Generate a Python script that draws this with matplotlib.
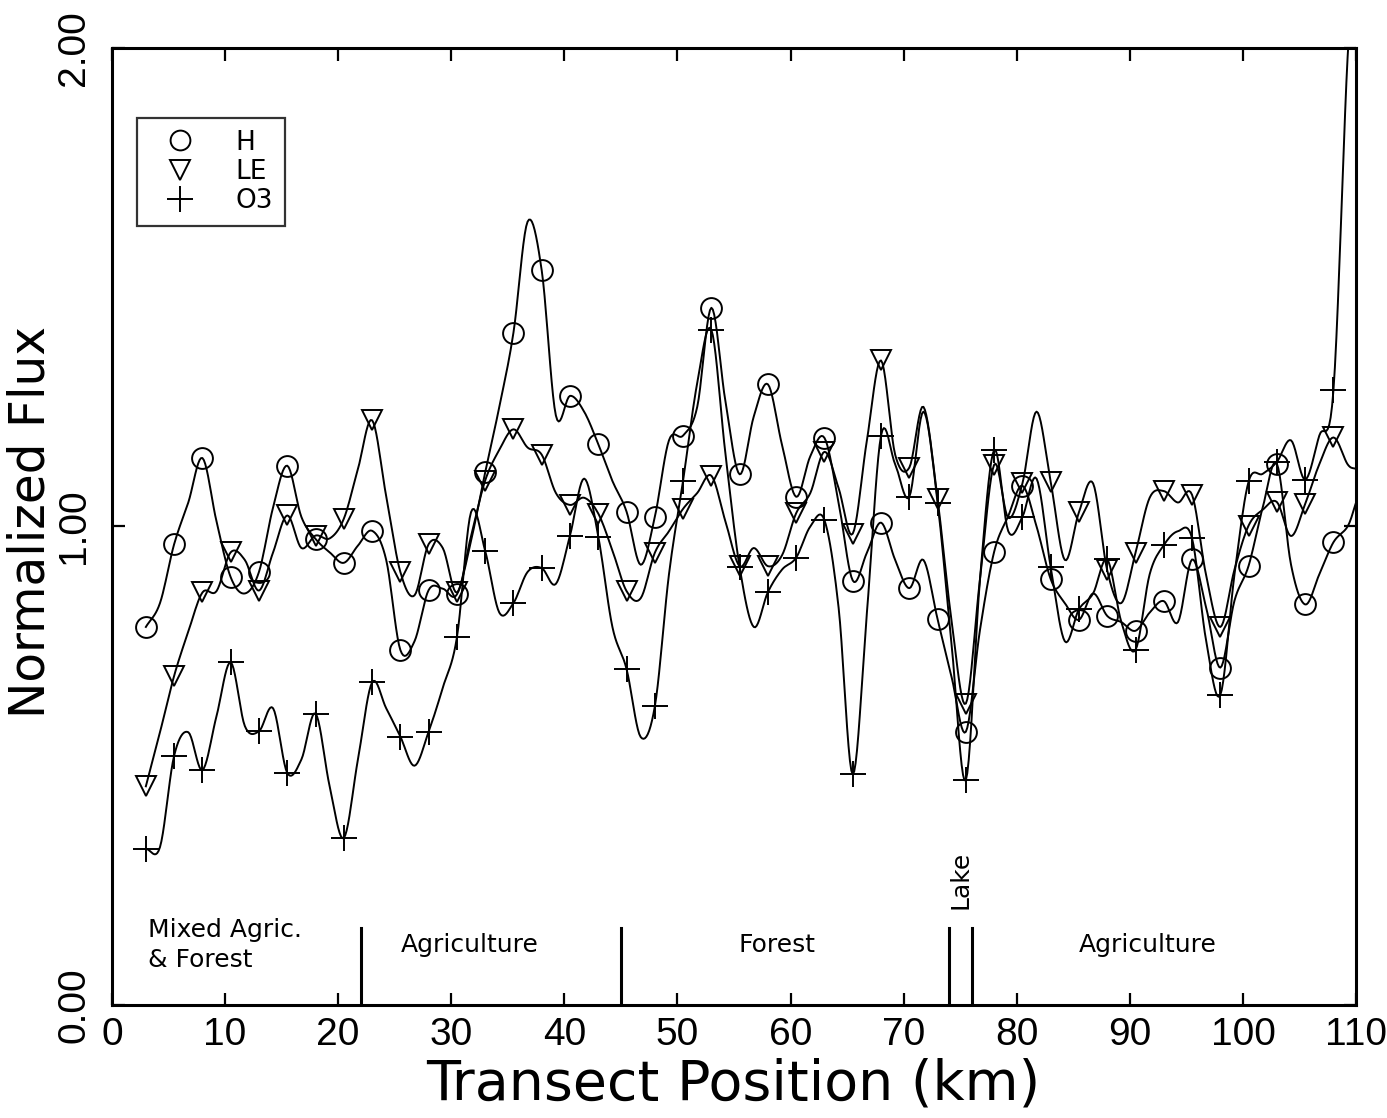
import numpy as np
import matplotlib
matplotlib.use("Agg")
import matplotlib.pyplot as plt
from matplotlib.lines import Line2D

# sample positions along the transect (km); every second one carries a marker
km = list(np.arange(3.0, 109.3, 1.25)) + [110.0]

flux_h = [0.79, 0.84, 0.963, 1.05, 1.143, 1.01, 0.894, 0.86, 0.905, 1.04,
          1.127, 1.02, 0.974, 0.946, 0.924, 0.96, 0.991, 0.93, 0.742, 0.76,
          0.867, 0.87, 0.858, 0.97, 1.113, 1.25, 1.405, 1.637, 1.535, 1.232,
          1.273, 1.24, 1.172, 1.095, 1.031, 0.92, 1.020, 1.18, 1.190, 1.25,
          1.457, 1.26, 1.109, 1.23, 1.297, 1.17, 1.062, 1.147, 1.185, 1.05,
          0.887, 0.945, 1.008, 0.93, 0.871, 0.93, 0.806, 0.684, 0.571, 0.784,
          0.947, 1.022, 1.085, 1.00, 0.890, 0.84, 0.805, 0.86, 0.813, 0.80,
          0.782, 0.82, 0.844, 0.80, 0.931, 0.83, 0.705, 0.845, 0.918, 1.04,
          1.131, 0.92, 0.837, 0.90, 0.967, 1.00, 1.05]

flux_le = [0.457, 0.57, 0.688, 0.78, 0.862, 0.865, 0.946, 0.93, 0.866, 0.946,
           1.023, 0.955, 0.981, 0.975, 1.016, 1.12, 1.222, 1.063, 0.905, 0.856,
           0.963, 0.955, 0.862, 0.98, 1.096, 1.16, 1.203, 1.165, 1.150, 1.07,
           1.045, 1.06, 1.027, 0.95, 0.865, 0.85, 0.945, 0.99, 1.037, 1.07,
           1.106, 1.01, 0.917, 0.955, 0.917, 0.94, 1.028, 1.07, 1.156, 1.08,
           0.985, 1.18, 1.347, 1.15, 1.123, 1.25, 1.057, 0.80, 0.630, 0.89,
           1.129, 1.018, 1.090, 1.24, 1.093, 0.93, 1.030, 1.09, 0.908, 0.84,
           0.945, 1.06, 1.074, 1.05, 1.066, 0.897, 0.790, 0.91, 1.002, 1.035,
           1.051, 0.98, 1.047, 1.13, 1.186, 1.13, 1.12]

flux_o3 = [0.326, 0.33, 0.521, 0.57, 0.491, 0.604, 0.716, 0.583, 0.572, 0.62,
           0.485, 0.513, 0.609, 0.457, 0.349, 0.513, 0.674, 0.62, 0.561, 0.50,
           0.571, 0.663, 0.768, 1.03, 0.949, 0.82, 0.840, 0.905, 0.913, 0.88,
           0.981, 1.10, 0.979, 0.79, 0.702, 0.56, 0.624, 0.90, 1.096, 1.30,
           1.411, 1.15, 0.915, 0.79, 0.863, 0.91, 0.935, 1.00, 1.013, 0.83,
           0.482, 0.82, 1.190, 1.13, 1.062, 1.24, 1.05, 0.75, 0.470, 0.89,
           1.160, 0.99, 1.020, 1.10, 0.915, 0.76, 0.827, 0.86, 0.931, 0.80,
           0.742, 0.90, 0.961, 0.99, 0.975, 0.76, 0.648, 0.90, 1.094, 1.11,
           1.135, 1.18, 1.098, 1.19, 1.285, 1.98, 2.15]

series = [("H", flux_h, "o"), ("LE", flux_le, "v"), ("O3", flux_o3, "+")]

# land-use zones along the transect
boundaries = [22.0, 45.0, 74.0, 76.0]
zone_names = ["Mixed Agric.\n& Forest", "Agriculture", "Forest", "Agriculture"]
zone_centers = [10.0, 31.6, 58.8, 91.6]

xticks = [0, 10, 20, 30, 40, 50, 60, 70, 80, 90, 100, 110]
yticks = [0.0, 1.0, 2.0]


def smooth_path(x, y, n=10):
    # Catmull-Rom drawing of the curve through the read points
    P = np.column_stack([x, y]).astype(float)
    P = np.vstack([2 * P[0] - P[1], P, 2 * P[-1] - P[-2]])
    t = np.linspace(0, 1, n, endpoint=False)[:, None]
    out = []
    for i in range(1, len(P) - 2):
        p0, p1, p2, p3 = P[i - 1], P[i], P[i + 1], P[i + 2]
        out.append(0.5 * (2 * p1 + (p2 - p0) * t
                          + (2 * p0 - 5 * p1 + 4 * p2 - p3) * t ** 2
                          + (3 * p1 - p0 - 3 * p2 + p3) * t ** 3))
    out.append(P[-2][None])
    out = np.vstack(out)
    return out[:, 0], out[:, 1]


fig = plt.figure(figsize=(13.87, 11.18), dpi=100)
ax = fig.add_axes([0.0807, 0.1011, 0.897, 0.856])

marker_sizes = {"o": 15, "v": 15, "+": 19}
for name, vals, mk in series:
    sx, sy = smooth_path(km, vals)
    ax.plot(sx, sy, color="black", lw=1.4)
    ax.plot(km[0:85:2], vals[0:85:2], ls="none", marker=mk,
            ms=marker_sizes[mk], mfc="none", mec="black", mew=1.4)

for b in boundaries:
    ax.plot([b, b], [0, 0.16], color="black", lw=2.2)

for name, xc in zip(zone_names, zone_centers):
    ax.text(xc, 0.125, name, ha="center", va="center", multialignment="left",
            fontsize=18, family="DejaVu Sans", linespacing=1.3)
ax.text(75.0, 0.262, "Lake", rotation=90, ha="center", va="center",
        fontsize=18, family="DejaVu Sans")

ax.set_xlim(0, 110)
ax.set_ylim(0, 2.0)
ax.set_xticks(xticks)
ax.set_yticks(yticks)
ax.set_xticklabels([str(t) for t in xticks])
ax.set_yticklabels(["%.2f" % t for t in yticks], rotation=90, va="center")

for lab in ax.get_xticklabels() + ax.get_yticklabels():
    lab.set_fontfamily(["Liberation Sans", "DejaVu Sans"])
    lab.set_fontsize(28)

ax.tick_params(direction="in", length=9, width=1.6, top=True, right=True)
ax.tick_params(axis="x", pad=9)
ax.tick_params(axis="y", pad=14)
for sp in ax.spines.values():
    sp.set_linewidth(2.2)

fig.text(0.529, 0.030, "Transect Position (km)", ha="center", va="center",
         fontsize=40, family="DejaVu Sans")
fig.text(0.022, 0.533, "Normalized Flux", ha="center", va="center",
         rotation=90, fontsize=35, family="DejaVu Sans")

handles = [Line2D([], [], ls="none", marker=mk, ms=marker_sizes[mk] * 0.95,
                  mfc="none", mec="black", mew=1.4) for _, _, mk in series]
leg = ax.legend(handles, [s[0] for s in series], loc="upper left",
                bbox_to_anchor=(0.02, 0.927), borderaxespad=0,
                fontsize=19, frameon=True, fancybox=False, handlelength=2.4,
                handletextpad=0.9, labelspacing=0.12, borderpad=0.45)
leg.get_frame().set_edgecolor("black")
leg.get_frame().set_linewidth(1.6)

fig.savefig("out.png", dpi=100)
